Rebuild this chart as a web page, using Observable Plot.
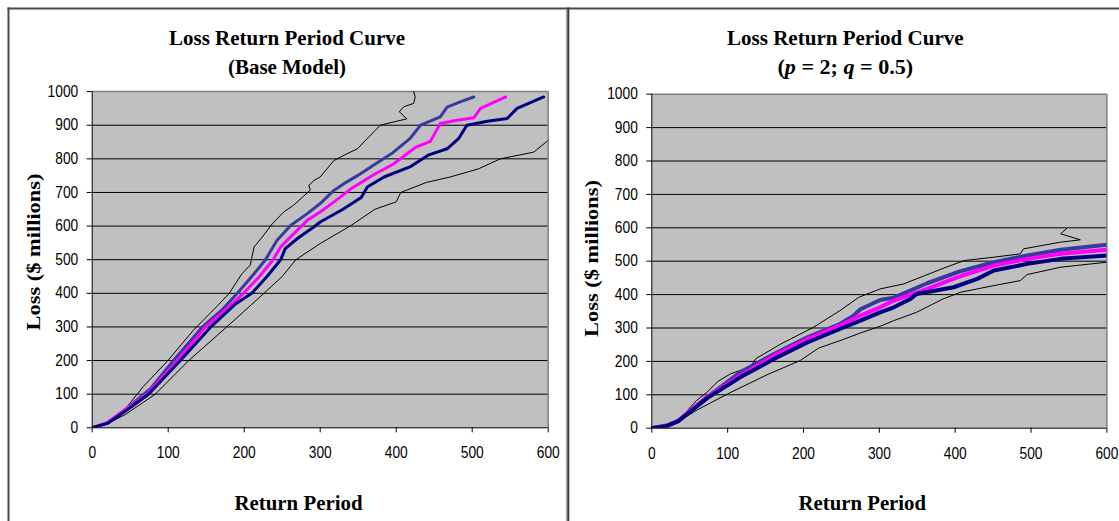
<!DOCTYPE html>
<html><head><meta charset="utf-8">
<script src="https://cdn.jsdelivr.net/npm/d3@7"></script>
<script src="https://cdn.jsdelivr.net/npm/@observablehq/plot@0.6"></script>
<style>
html,body{margin:0;padding:0;background:#fff;}
#wrap{position:relative;width:1119px;height:521px;overflow:hidden;background:#fff;}
#wrap > svg{position:absolute;top:0;}
</style></head><body><div id="wrap"></div>
<script>
// ---------- tick values ----------
const xTicks = [0, 100, 200, 300, 400, 500, 600];
const yTicks = [0, 100, 200, 300, 400, 500, 600, 700, 800, 900, 1000];
const gridValues = [100, 200, 300, 400, 500, 600, 700, 800, 900];

// ---------- Base Model: [return period, loss] ----------
const baseUpper = [[0,0],[20,15],[44,57],[67,122],[100,201],[133,290],[161,354],[180,399],[197,458],[208,484],[213,538],[224,568],[237,607],[252,642],[265,662],[287,707],[285,721],[292,736],[300,746],[318,795],[335,815],[349,830],[379,900],[390,906],[414,919],[404,940],[410,955],[423,965],[425,984],[423,1000]];
const baseBlue = [[0,0],[20,14],[44,55],[77,117],[107,200],[145,300],[170,349],[191,400],[210,450],[228,500],[243,557],[261,602],[283,637],[300,667],[318,706],[334,730],[349,750],[372,784],[396,819],[418,860],[432,900],[458,925],[467,954],[485,970],[502,984]];
const baseMagenta = [[0,0],[20,16],[44,55],[72,100],[112,200],[149,300],[175,350],[199,400],[220,450],[238,500],[248,538],[261,568],[283,617],[300,642],[320,675],[340,710],[372,755],[396,784],[426,835],[445,852],[458,905],[480,915],[502,922],[511,950],[544,984]];
const baseNavy = [[0,0],[20,13],[44,50],[74,100],[116,200],[156,300],[189,369],[210,400],[230,450],[248,500],[254,533],[270,563],[292,598],[300,612],[330,650],[354,685],[362,716],[384,746],[418,776],[443,812],[467,830],[482,860],[493,900],[520,912],[546,920],[559,950],[594,984]];
const baseLower = [[0,0],[20,12],[44,40],[83,100],[127,200],[177,300],[226,400],[250,450],[268,500],[300,548],[340,601],[372,650],[400,672],[406,700],[440,730],[471,746],[508,770],[537,800],[581,820],[600,855]];

// ---------- p = 2; q = 0.5 ----------
const pqUpper = [[0,0],[20,10],[35,23],[59,83],[73,108],[87,140],[104,163],[130,183],[137,208],[170,252],[213,302],[248,352],[273,392],[301,417],[332,432],[360,457],[388,482],[412,502],[451,512],[486,522],[490,537],[539,557],[565,564],[539,582],[547,598]];
const pqBlue = [[0,0],[20,8],[35,22],[51,53],[73,93],[117,168],[161,222],[205,272],[248,312],[265,335],[275,356],[301,384],[319,391],[363,434],[407,470],[451,497],[495,517],[539,534],[600,549]];
const pqMagenta = [[0,0],[20,8],[35,22],[51,53],[73,93],[117,158],[161,217],[205,267],[248,307],[275,337],[301,362],[319,382],[363,417],[407,455],[451,487],[495,507],[539,522],[600,534]];
const pqNavy = [[0,0],[20,7],[35,21],[51,50],[73,90],[117,153],[161,207],[205,257],[248,297],[275,322],[301,347],[319,362],[341,387],[349,402],[398,422],[429,447],[451,472],[495,492],[539,507],[600,517]];
const pqLower = [[0,0],[20,6],[35,20],[60,55],[102,105],[152,160],[196,203],[220,240],[248,262],[275,285],[301,305],[319,322],[349,347],[384,387],[407,407],[451,427],[486,442],[495,460],[539,482],[600,497]];

const serif = "'Liberation Serif','Times New Roman',serif";
const sans = "'Liberation Sans',Arial,sans-serif";

function makePanel(cfg) {
  const seriesMarks = cfg.series.map(s =>
    Plot.line(s.data, {x: d => d[0], y: d => d[1], stroke: s.color, strokeWidth: s.width, clip: true})
  );
  const chart = Plot.plot({
    width: cfg.width, height: 521,
    marginLeft: cfg.ml, marginRight: cfg.mr, marginTop: cfg.mt, marginBottom: cfg.mb,
    x: {domain: [0, 600]},
    y: {domain: [0, 1000]},
    style: {fontFamily: sans, background: "transparent", color: "#000", overflow: "visible"},
    marks: [
      Plot.frame({fill: "#c0c0c0"}),
      Plot.ruleY(gridValues, {stroke: "#000", strokeWidth: 1}),
      Plot.ruleY([1000], {stroke: "#808080", strokeWidth: 1.5}),
      Plot.ruleX([600], {stroke: "#808080", strokeWidth: 1.5}),
      ...seriesMarks,
      Plot.ruleX([0], {stroke: "#000", strokeWidth: 1}),
      Plot.ruleY([0], {stroke: "#000", strokeWidth: 1}),
      Plot.axisX({ticks: xTicks, tickSize: 5, tickPadding: 14, fontSize: 16, label: null, tickFormat: d => String(d)}),
      Plot.axisY({ticks: yTicks, tickSize: 5, tickPadding: 9, fontSize: 16, label: null, tickFormat: d => String(d)})
    ]
  });
  chart.style.left = cfg.left + "px";
  const svg = d3.select(chart);
  // condense tick labels horizontally like the original rendering
  svg.selectAll('g[aria-label$="tick label"] text').each(function () {
    const t = this.getAttribute("transform");
    if (t) this.setAttribute("transform", t + " scale(0.86,1)");
  });
  const addText = (x, y, len, rotate) => {
    const el = svg.append("text")
      .attr("font-family", serif).attr("font-weight", "bold").attr("font-size", 22)
      .attr("text-anchor", "middle")
      .attr("textLength", len).attr("lengthAdjust", "spacingAndGlyphs")
      .attr("fill", "#000");
    if (rotate) el.attr("transform", `translate(${x},${y}) rotate(-90) scale(1,0.86)`);
    else el.attr("x", x).attr("y", y);
    return el;
  };
  addText(cfg.titleX, 45, cfg.titleLen).text(cfg.title);
  const sub = addText(cfg.titleX, 74, cfg.subLen);
  cfg.subtitle.forEach(part => {
    const ts = sub.append("tspan").text(part.t);
    if (part.i) ts.attr("font-style", "italic");
  });
  addText(cfg.xLabX, 510, cfg.xLabLen).text("Return Period");
  addText(cfg.yLabX, cfg.yLabY, 157, true).text("Loss ($ millions)");
  return chart;
}

const wrap = document.getElementById("wrap");

wrap.appendChild(makePanel({
  left: 0, width: 560, ml: 91.7, mr: 12.3, mt: 91.1, mb: 93.7,
  title: "Loss Return Period Curve", titleX: 287, titleLen: 236,
  subtitle: [{t: "(Base Model)"}], subLen: 118,
  xLabX: 298.5, xLabLen: 128, yLabX: 40, yLabY: 252,
  series: [
    {data: baseUpper, color: "#000", width: 1},
    {data: baseLower, color: "#000", width: 1},
    {data: baseBlue, color: "#3a3a9e", width: 3},
    {data: baseMagenta, color: "#ff00ff", width: 3},
    {data: baseNavy, color: "#000080", width: 3}
  ]
}));

wrap.appendChild(makePanel({
  left: 560, width: 559, ml: 91.3, mr: 12.6, mt: 93.7, mb: 93.3,
  title: "Loss Return Period Curve", titleX: 285.3, titleLen: 236.6,
  subtitle: [{t: "("}, {t: "p", i: true}, {t: " = 2; "}, {t: "q", i: true}, {t: " = 0.5)"}], subLen: 135.7,
  xLabX: 302.3, xLabLen: 127.4, yLabX: 38.3, yLabY: 258.5,
  series: [
    {data: pqUpper, color: "#000", width: 1},
    {data: pqLower, color: "#000", width: 1},
    {data: pqBlue, color: "#3a3a9e", width: 4},
    {data: pqMagenta, color: "#ff00ff", width: 4},
    {data: pqNavy, color: "#000080", width: 4}
  ]
}));

// sheet / chart-area borders
const ov = d3.select(wrap).append("svg").attr("width", 1119).attr("height", 521)
  .style("left", "0px").style("pointer-events", "none");
ov.append("line").attr("x1", 7.5).attr("x2", 1119).attr("y1", 8.5).attr("y2", 8.5).attr("stroke", "#4a4a4a").attr("stroke-width", 2);
ov.append("line").attr("x1", 8.5).attr("x2", 8.5).attr("y1", 7.5).attr("y2", 521).attr("stroke", "#4a4a4a").attr("stroke-width", 2);
ov.append("line").attr("x1", 566.6).attr("x2", 566.6).attr("y1", 9.5).attr("y2", 521).attr("stroke", "#a8a8a8").attr("stroke-width", 1.3);
ov.append("line").attr("x1", 568.3).attr("x2", 568.3).attr("y1", 7.5).attr("y2", 521).attr("stroke", "#3a3a3a").attr("stroke-width", 2);
</script>
</body></html>
